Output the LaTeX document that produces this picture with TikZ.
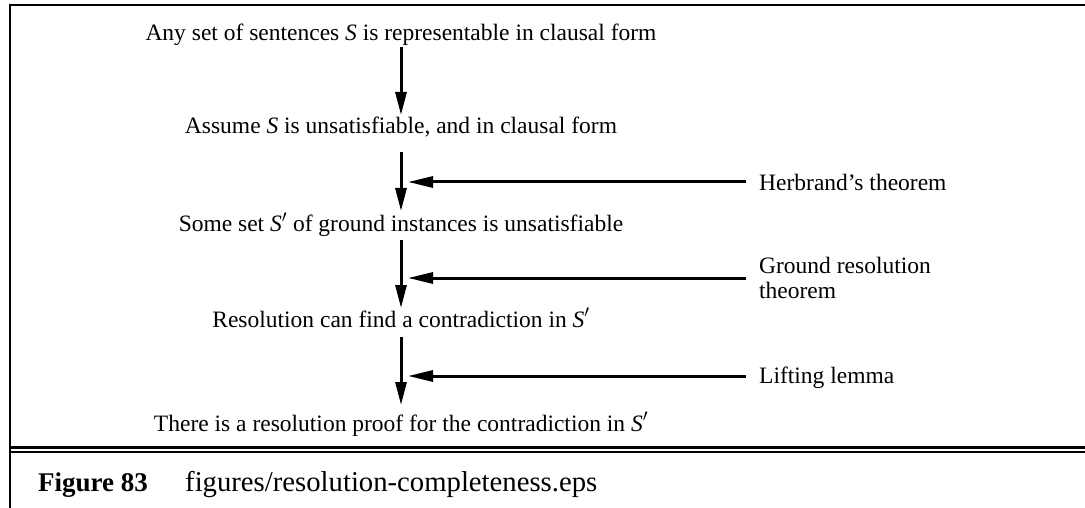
\documentclass[tikz,border=0pt]{standalone}
\usepackage{fontspec}
\setmainfont{Liberation Serif}
\usetikzlibrary{arrows.meta}
\begin{document}
\begin{tikzpicture}[x=1pt,y=-1pt,
  txt/.style={anchor=base,inner sep=0pt,font=\fontsize{23.5}{25}\selectfont},
  lbl/.style={anchor=base west,inner sep=0pt,font=\fontsize{23.5}{25}\selectfont,align=left},
  arr/.style={line width=3pt,-{Triangle[length=23pt,width=11pt]}},
  harr/.style={line width=3pt,-{Triangle[length=25pt,width=11pt]}},
  frame/.style={line width=2.5pt}]
\useasboundingbox (0,0) rectangle (1085,508);
% frame
\draw[frame] (10,508) -- (10,5) -- (1085,5);
\draw[line width=3pt] (10,447) -- (1085,447);
\draw[line width=2pt] (10,451.5) -- (1085,451.5);
% statements
\node[txt] (n1) at (401,41) {Any set of sentences \textit{S} is representable in clausal form};
\node[txt] (n2) at (401,134) {Assume \textit{S} is unsatisfiable, and in clausal form};
\node[txt] (n3) at (401,232) {Some set \textit{S}$'$ of ground instances is unsatisfiable};
\node[txt] (n4) at (401,327) {Resolution can find a contradiction in \textit{S}$'$};
\node[txt] (n5) at (401,431) {There is a resolution proof for the contradiction in \textit{S}$'$};
% justifications
\node[lbl] (h) at (759,190) {Herbrand’s theorem};
\node[lbl,anchor=west] (g) at (759,278) {Ground resolution\\theorem};
\node[lbl] (l) at (759,383) {Lifting lemma};
% vertical arrows
\draw[arr] ([yshift=-6pt]n1.base) -- ([yshift=19pt]n2.base);
\draw[arr] ([yshift=-18pt]n2.base) -- ([yshift=21pt]n3.base);
\draw[arr] ([yshift=-8pt]n3.base) -- ([yshift=19pt]n4.base);
\draw[arr] ([yshift=-10pt]n4.base) -- ([yshift=26pt]n5.base);
% horizontal arrows, ending on the vertical arrows
\coordinate (t1) at (408,182);
\coordinate (t2) at (408,278);
\coordinate (t3) at (408,376);
\draw[harr] ([xshift=-13pt,yshift=8pt]h.base west) -- (t1);
\draw[harr] ([xshift=-13pt]g.west) -- (t2);
\draw[harr] ([xshift=-13pt,yshift=7pt]l.base west) -- (t3);
% caption
\node[anchor=base west,inner sep=0pt,font=\fontsize{27}{30}\selectfont\bfseries] (fig) at (38,491) {Figure 83};
\node[anchor=base west,inner sep=0pt,font=\fontsize{28.7}{32}\selectfont] (fn) at (185,491) {figures/resolution-completeness.eps};
\end{tikzpicture}
\end{document}
